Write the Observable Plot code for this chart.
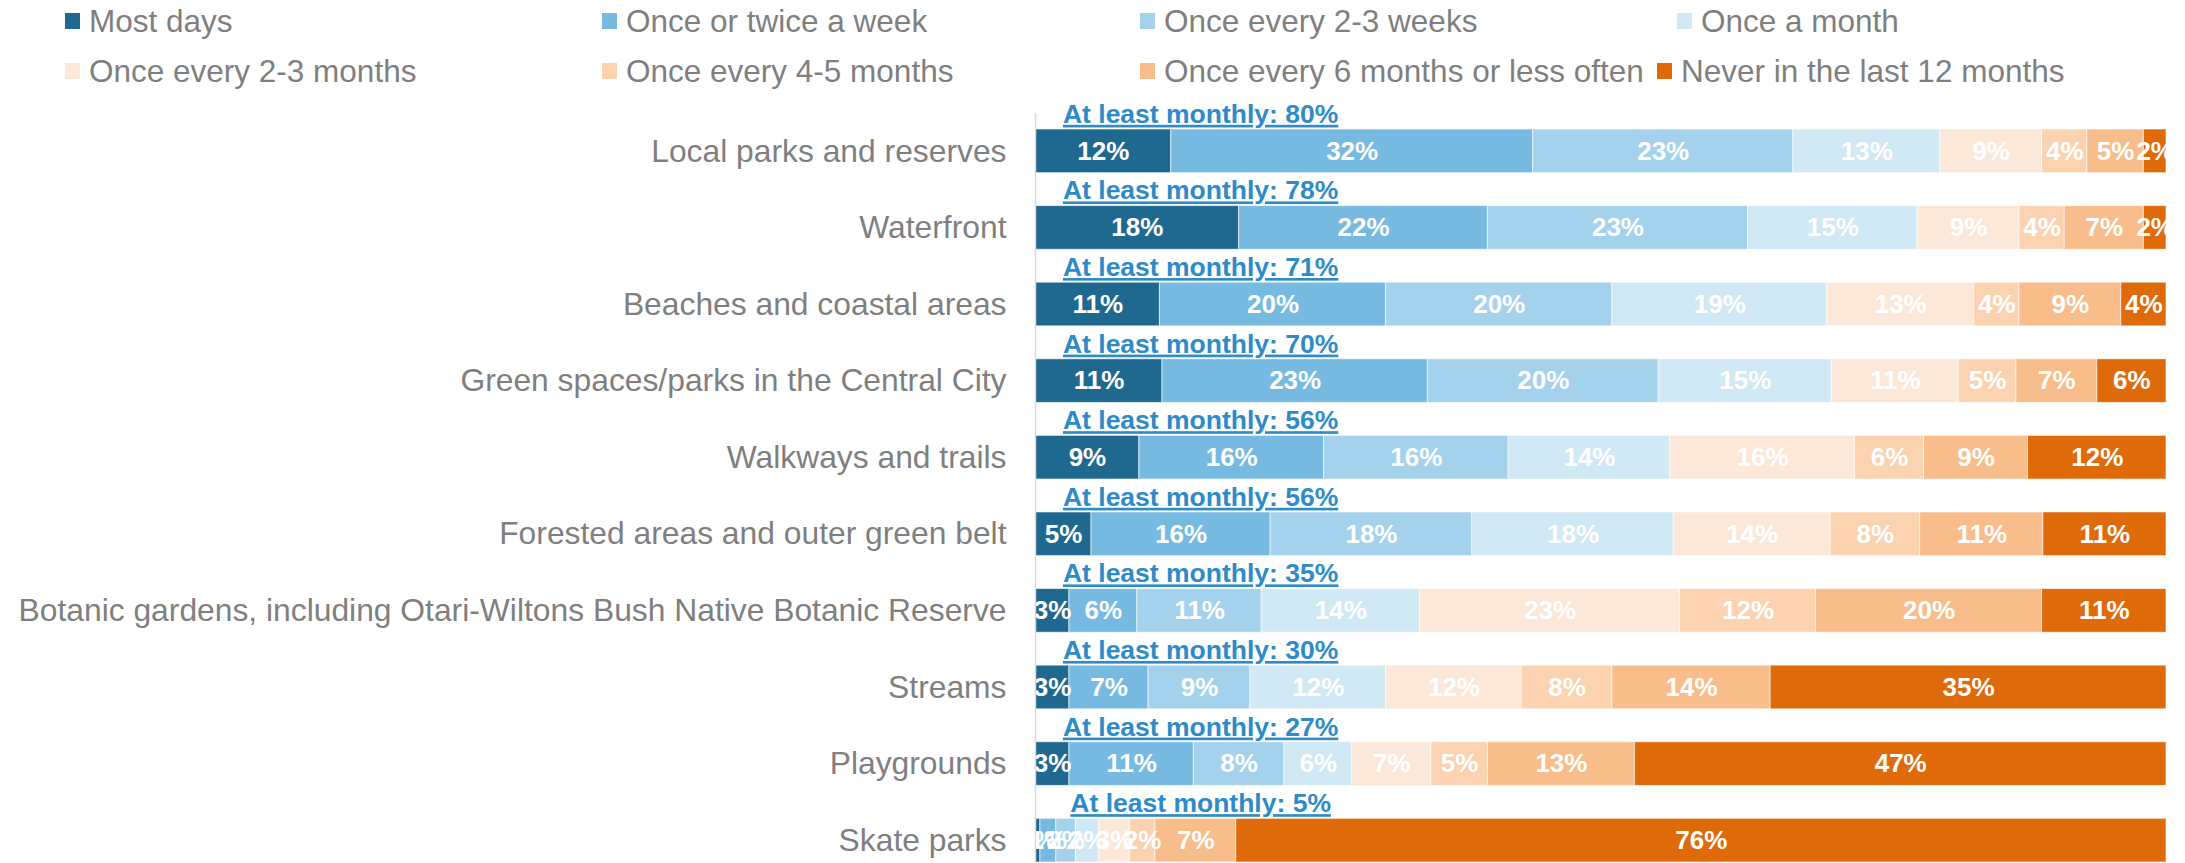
<!DOCTYPE html>
<html><head><meta charset="utf-8">
<script src="https://cdn.jsdelivr.net/npm/d3@7"></script>
<script src="https://cdn.jsdelivr.net/npm/@observablehq/plot@0.6"></script>
<style>
body{margin:0;background:#fff;font-family:"Liberation Sans",Arial,sans-serif;}
#legend{position:relative;width:2185px;height:95px;}
.li{position:absolute;display:flex;align-items:center;font-size:31.5px;color:#7f7f7f;white-space:nowrap;height:40px;}
.sw{width:15px;height:16px;margin-right:9px;flex:none;}
#chart svg{display:block;}
</style></head><body>
<div id="legend"></div><div id="chart"></div>
<script>
const categories = [
  "Local parks and reserves",
  "Waterfront",
  "Beaches and coastal areas",
  "Green spaces/parks in the Central City",
  "Walkways and trails",
  "Forested areas and outer green belt",
  "Botanic gardens, including Otari-Wiltons Bush Native Botanic Reserve",
  "Streams",
  "Playgrounds",
  "Skate parks"
];
const freqs = [
  "Most days",
  "Once or twice a week",
  "Once every 2-3 weeks",
  "Once a month",
  "Once every 2-3 months",
  "Once every 4-5 months",
  "Once every 6 months or less often",
  "Never in the last 12 months"
];
const colors = ["#1F6890","#76BAE2","#A4D2EC","#D1E8F5","#FCE8D8","#FBD3B1","#F9BD8B","#DE6A0A"];

const mostDays      = [12, 18, 11, 11,  9,  5,  3,  3,  3, 0.4];
const onceTwiceWeek = [32, 22, 20, 23, 16, 16,  6,  7, 11, 1.3];
const every23Weeks  = [23, 23, 20, 20, 16, 18, 11,  9,  8, 1.6];
const onceMonth     = [13, 15, 19, 15, 14, 18, 14, 12,  6, 1.9];
const every23Months = [ 9,  9, 13, 11, 16, 14, 23, 12,  7, 2.5];
const every45Months = [ 4,  4,  4,  5,  6,  8, 12,  8,  5, 2.1];
const every6Months  = [ 5,  7,  9,  7,  9, 11, 20, 14, 13, 6.6];
const never12Months = [ 2,  2,  4,  6, 12, 11, 11, 35, 47, 76];
const atLeastMonthly = [80, 78, 71, 70, 56, 56, 35, 30, 27, 5];

const series = [mostDays, onceTwiceWeek, every23Weeks, onceMonth, every23Months, every45Months, every6Months, never12Months];
const table = categories.flatMap((c, i) => freqs.map((f, j) => ({cat: c, freq: f, value: series[j][i]})));

// legend (item positions follow the reference's two-row layout)
const legendX = [65, 602, 1140, 1677, 65, 602, 1140, 1657];
const legend = document.getElementById("legend");
freqs.forEach((f, j) => {
  const row = Math.floor(j / 4);
  const el = document.createElement("div");
  el.className = "li";
  el.style.left = legendX[j] + "px";
  el.style.top = (row === 0 ? 1 : 51) + "px";
  el.innerHTML = `<span class="sw" style="background:${colors[j]}"></span><span>${f}</span>`;
  legend.appendChild(el);
});

const plot = Plot.plot({
  width: 2185, height: 768,
  marginLeft: 1035, marginRight: 19, marginTop: 34, marginBottom: 1,
  style: {fontFamily: '"Liberation Sans", Arial, sans-serif', background: "white"},
  x: {domain: [0, 1], axis: null},
  y: {domain: categories, paddingInner: 0.43, paddingOuter: 0, round: false},
  color: {domain: freqs, range: colors},
  marks: [
    Plot.barX(table, Plot.stackX({x: "value", y: "cat", fill: "freq", offset: "normalize", stroke: "white", strokeWidth: 1, strokeOpacity: 0.6})),
    Plot.text(table, Plot.stackX({x: "value", y: "cat", z: "freq", offset: "normalize", text: d => Math.round(d.value) + "%", fill: "white", fontSize: 26, fontWeight: "bold"})),
    Plot.text(categories, {x: 0.146, y: d => d, text: (d, i) => `At least monthly: ${atLeastMonthly[i]}%`, dy: -37, fill: "#2E8BC8", fontSize: 26.5, fontWeight: "bold"}),
    Plot.axisY({tickSize: 0, tickPadding: 29, fontSize: 31.8, color: "#7f7f7f", label: null}),
    Plot.ruleX([0], {stroke: "#d9d9d9", strokeWidth: 1.5, insetTop: -16})
  ]
});
d3.select(plot).selectAll("text").filter(function() { return this.textContent.startsWith("At least"); })
  .attr("text-decoration", "underline");
document.getElementById("chart").appendChild(plot);
</script>
</body></html>
